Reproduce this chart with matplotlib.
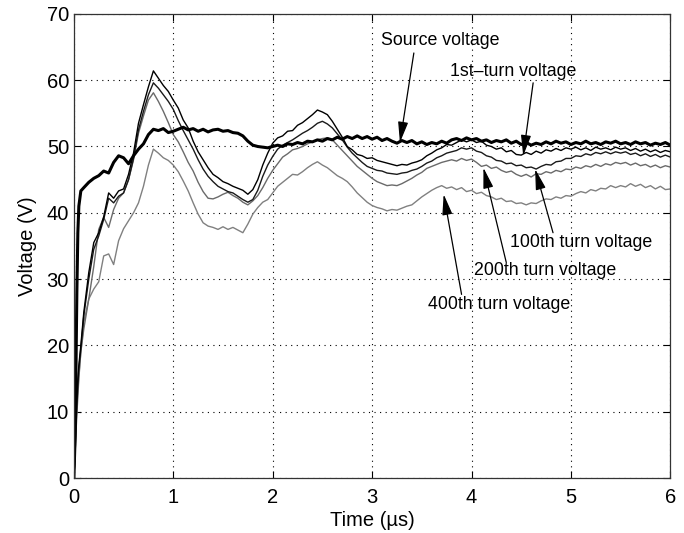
import numpy as np
import matplotlib
matplotlib.use('Agg')
import matplotlib.pyplot as plt

plt.rcParams['font.family'] = ['Liberation Sans', 'DejaVu Sans']

# sample times (us): dense start, then every 0.05 us
t_early = [0, 0.01, 0.02, 0.03, 0.04, 0.05, 0.07]
time_us = np.concatenate([t_early, np.round(np.arange(0.1, 6.0001, 0.05), 2)])

v_source = [0, 5, 15, 28, 37, 41, 43.3,
            43.8, 44.6, 45.2, 45.6, 46.3, 46.0, 47.6, 48.6,
            48.3, 47.4, 48.6, 49.6, 50.4, 51.8, 52.6, 52.4, 52.7, 52.1,
            52.3, 52.6, 52.9, 52.5, 52.7, 52.3, 52.6, 52.2, 52.5, 52.6,
            52.3, 52.4, 52.1, 52.0, 51.6, 50.8, 50.2, 50.0, 49.9, 49.8,
            50.0, 50.2, 50.0, 50.4, 50.3, 50.6, 50.4, 50.8, 50.7, 51.0,
            50.8, 51.2, 51.0, 51.4, 51.1, 51.5, 51.2, 51.6, 51.2, 51.5,
            51.1, 51.4, 50.9, 51.2, 50.8, 50.5, 50.9, 50.6, 50.9, 50.4,
            50.7, 50.3, 50.6, 50.4, 50.8, 50.5, 51.0, 51.2, 50.9, 51.3,
            51.0, 51.2, 50.8, 51.0, 50.6, 50.9, 50.7, 51.0, 50.5, 50.8,
            50.3, 50.6, 50.2, 50.5, 50.3, 50.7, 50.4, 50.8, 50.5, 50.7,
            50.3, 50.6, 50.4, 50.8, 50.4, 50.6, 50.3, 50.7, 50.5, 50.8,
            50.4, 50.6, 50.3, 50.7, 50.4, 50.6, 50.2, 50.5, 50.3, 50.6,
            50.2]

v_turn1 = [0, 3, 8, 12, 15, 17, 20,
           25, 31, 35.5, 37, 39.4, 43, 42.2, 43.3,
           43.6, 45.8, 49, 53.5, 56.3, 59, 61.4, 60.3, 59.2, 58.3,
           57, 55.8, 54, 52.8, 50.8, 49.2, 48, 46.8, 45.8, 45.3,
           44.7, 44.4, 44.0, 43.7, 43.4, 42.8, 43.5, 45, 47.2, 49,
           50.5, 51.3, 51.6, 52.3, 52.4, 53.2, 53.6, 54.2, 54.8, 55.5,
           55.2, 54.8, 53.8, 52.6, 51.4, 50, 49.5, 48.8, 48.6, 48.2,
           48.3, 47.9, 47.7, 47.5, 47.3, 47.1, 47.3, 47.2, 47.5, 47.7,
           48.0, 48.6, 49.0, 49.5, 49.8, 50.3, 50.2, 50.6, 51.0, 50.7,
           51.0, 50.6, 50.8, 50.2, 50.0, 49.6, 49.8, 49.2, 49.4, 48.8,
           48.7, 49.1, 48.8, 49.3, 49.0, 49.5, 49.3, 49.7, 49.4, 49.8,
           49.6, 49.9, 49.5, 49.8, 49.4, 49.9, 49.6, 49.8, 49.5, 49.9,
           49.6, 49.8, 49.4, 49.7, 49.3, 49.6, 49.2, 49.5, 49.1, 49.4,
           49.2]

v_turn100 = [0, 2.5, 7, 11, 14, 16.5, 19.5,
             24.5, 30, 34.5, 36.5, 39, 42.2, 41.5, 42.5,
             43, 45, 48.2, 52.5, 55.3, 57.8, 59.6, 58.8, 57.8, 56.8,
             55.6, 53.9, 52.4, 51.0, 49.6, 48.0, 46.6, 45.5, 44.7, 44.0,
             43.6, 43.2, 43.0, 42.5, 42.0, 41.6, 42.0, 43.4, 45.5, 47.2,
             48.5, 49.6, 50.2, 50.6, 51.0, 51.5, 52.0, 52.4, 52.9, 53.5,
             53.8, 53.4, 52.8, 51.9, 51.0, 49.9, 49.0, 48.3, 47.6, 47.0,
             46.7, 46.4, 46.3, 46.0, 45.9, 45.8, 46.0, 46.1, 46.4, 46.6,
             47.0, 47.5, 47.8, 48.3, 48.6, 49.0, 49.2, 49.4, 49.8, 49.6,
             49.8, 49.3, 49.1, 48.6, 48.4, 47.9, 47.8, 47.4, 47.5, 47.1,
             47.2, 46.8, 46.9, 46.6, 47.0, 47.3, 47.2, 47.7, 47.8, 48.2,
             48.2, 48.6, 48.5, 48.9, 48.7, 49.1, 48.9, 49.2, 48.9, 49.2,
             49.0, 49.2, 48.8, 49.0, 48.6, 48.9, 48.5, 48.8, 48.4, 48.7,
             48.4]

v_turn200 = [0, 3, 6.5, 9.5, 12.3, 15, 19,
             22.5, 27, 31.9, 37.5, 39.3, 37.8, 40.5, 42.2,
             43, 45, 48, 52, 54.6, 57, 58.1, 56.8, 55.3, 53.6,
             51.8, 50.7, 49.2, 47.6, 46.3, 44.6, 43.2, 42.2, 42.1, 42.4,
             42.8, 43.1, 42.6, 42.2, 41.6, 41.2, 41.8, 42.6, 43.8, 45.2,
             46.4, 47.4, 48.4, 48.9, 49.5, 49.7, 50.0, 50.4, 50.7, 51.0,
             51.2, 51.3, 51.0, 50.2, 49.4, 48.6, 47.8, 47.0, 46.4, 45.8,
             45.2, 44.7, 44.4, 44.1, 44.2, 44.1, 44.4, 44.8, 45.2, 45.7,
             46.1, 46.7, 47.0, 47.3, 47.6, 47.8, 48.0, 47.8, 48.2, 47.9,
             48.1, 47.6, 47.0, 47.2, 46.7, 46.9, 46.4, 46.1, 46.3, 45.8,
             45.5, 45.8, 45.4, 45.9, 45.8, 46.2, 46.0, 46.4, 46.2, 46.6,
             46.5, 46.9, 46.7, 47.1, 46.9, 47.3, 47.0, 47.4, 47.2, 47.6,
             47.4, 47.6, 47.2, 47.5, 47.1, 47.3, 46.9, 47.2, 46.8, 47.1,
             46.9]

v_turn400 = [0, 4, 8, 11, 13, 15.5, 19,
             23.5, 27, 28.5, 29.6, 33.5, 33.8, 32.2, 35.8,
             37.6, 38.8, 40, 41.5, 44.0, 47.2, 49.6, 49.0, 48.3, 47.9,
             47.2, 46.2, 44.8, 43.3, 41.5, 39.8, 38.5, 38.0, 37.8, 37.5,
             37.9, 37.5, 37.8, 37.4, 37.0, 38.3, 39.8, 40.8, 41.6, 42.0,
             43.0, 44.0, 44.6, 45.2, 45.8, 45.7, 46.2, 46.8, 47.3, 47.7,
             47.2, 46.8, 46.2, 45.6, 45.2, 44.7, 43.9, 43.0, 42.3, 41.6,
             41.1, 40.8, 40.6, 40.3, 40.5, 40.4, 40.7, 41.0, 41.2, 41.8,
             42.4, 42.9, 43.4, 43.8, 44.1, 43.7, 43.9, 43.5, 43.8, 43.2,
             43.4, 42.9, 43.1, 42.6, 42.4, 42.0, 42.2, 41.7, 41.8, 41.4,
             41.5, 41.2, 41.5, 41.4, 41.8, 42.1, 42.0, 42.4, 42.2, 42.6,
             42.5, 42.9, 43.2, 43.0, 43.5, 43.3, 43.7, 43.6, 44.1, 43.8,
             44.1, 43.9, 44.4, 44.0, 44.3, 43.8, 44.1, 43.6, 44.0, 43.5,
             43.6]

for v in (v_source, v_turn1, v_turn100, v_turn200, v_turn400):
    assert len(v) == len(time_us), len(v)

fig = plt.figure(figsize=(6.84, 5.33), dpi=100)
ax = fig.add_axes([0.108, 0.103, 0.872, 0.871])

ax.plot(time_us, v_turn400, color='#808080', lw=1.0)
ax.plot(time_us, v_turn200, color='#6a6a6a', lw=1.0)
ax.plot(time_us, v_turn100, color='#1a1a1a', lw=1.0)
ax.plot(time_us, v_turn1, color='#000000', lw=1.0)
ax.plot(time_us, v_source, color='#000000', lw=2.2)

ax.set_xlim(0, 6)
ax.set_ylim(0, 70)
ax.set_xticks(range(0, 7))
ax.set_yticks(range(0, 71, 10))
ax.grid(True, color='k', linestyle=(0, (1, 4)), linewidth=0.8)
ax.tick_params(direction='in', top=True, right=True, length=5, labelsize=14.5)
ax.tick_params(axis='x', pad=7)
ax.tick_params(axis='y', pad=3.5)
for s in ax.spines.values():
    s.set_linewidth(0.9)
    s.set_color('#333333')
ax.set_xlabel('Time (\u00b5s)', fontsize=14.5, labelpad=3)
ax.set_ylabel('Voltage (V)', fontsize=14.5, labelpad=7)

arrow = dict(arrowstyle='-|>,head_length=0.9,head_width=0.22', color='k',
             lw=0.9, mutation_scale=14, shrinkA=0, shrinkB=0)

labels = ['Source voltage', '1st\u2013turn voltage', '100th turn voltage',
          '200th turn voltage', '400th turn voltage']
text_xy = [(3.09, 66.0), (3.78, 61.3), (4.39, 35.5), (4.03, 31.3), (3.56, 26.2)]
tails = [(3.42, 64.1), (4.62, 59.6), (4.82, 37.0), (4.35, 32.5), (3.9, 27.7)]
tips = [(3.28, 50.6), (4.52, 48.6), (4.64, 46.6), (4.12, 46.8), (3.72, 42.8)]

for lab, (tx, ty), tail, tip in zip(labels, text_xy, tails, tips):
    ax.text(tx, ty, lab, fontsize=12.8, ha='left', va='center')
    ax.annotate('', xy=tip, xytext=tail, arrowprops=arrow)

fig.savefig('out.png', dpi=100)
